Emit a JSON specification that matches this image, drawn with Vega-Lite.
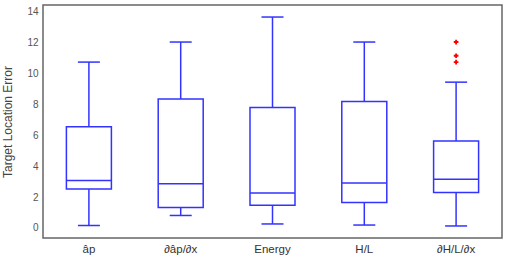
{
  "$schema": "https://vega.github.io/schema/vega-lite/v6.json",
  "width": 459,
  "height": 233,
  "autosize": {"type": "none"},
  "padding": {"left": 43, "top": 5, "right": 4, "bottom": 23},
  "background": "white",
  "config": {
    "view": {"stroke": "#666666", "strokeWidth": 1.5},
    "font": "Liberation Sans",
    "axisY": {
      "labelOverlap": false,
      "labelFlush": false,
      "grid": false,
      "domain": false,
      "ticks": false,
      "tickCount": 8,
      "labelPadding": 5,
      "labelFontSize": 10,
      "labelColor": "#555555",
      "titleFontSize": 12,
      "titleFontWeight": "normal",
      "titleColor": "#444444",
      "titlePadding": 12
    }
  },
  "datasets": {
    "boxes": [
      {"method": "âp", "lower": 0.16, "q1": 2.52, "median": 3.08, "q3": 6.56, "upper": 10.75},
      {"method": "∂âp/∂x", "lower": 0.81, "q1": 1.33, "median": 2.86, "q3": 8.36, "upper": 12.05},
      {"method": "Energy", "lower": 0.26, "q1": 1.48, "median": 2.27, "q3": 7.8, "upper": 13.67},
      {"method": "H/L", "lower": 0.19, "q1": 1.65, "median": 2.92, "q3": 8.19, "upper": 12.05},
      {"method": "∂H/L/∂x", "lower": 0.13, "q1": 2.3, "median": 3.15, "q3": 5.63, "upper": 9.45}
    ],
    "outliers": [
      {"method": "∂H/L/∂x", "value": 12.05},
      {"method": "∂H/L/∂x", "value": 11.16},
      {"method": "∂H/L/∂x", "value": 10.75}
    ]
  },
  "encoding": {
    "x": {
      "field": "method",
      "type": "nominal",
      "sort": ["âp", "∂âp/∂x", "Energy", "H/L", "∂H/L/∂x"],
      "scale": {"paddingInner": 0, "paddingOuter": 0},
      "axis": {
        "title": null,
        "labelAngle": 0,
        "domain": false,
        "ticks": false,
        "labelPadding": 5,
        "labelFontSize": 11.5,
        "labelColor": "#333333"
      }
    }
  },
  "layer": [
    {
      "data": {"name": "boxes"},
      "mark": {"type": "rule", "color": "#3333ff", "strokeWidth": 1.5},
      "encoding": {
        "y": {
          "field": "lower",
          "type": "quantitative",
          "scale": {"domain": [-0.65, 14.45], "nice": false, "zero": false},
          "axis": {
            "title": "Target Location Error",
            "values": [0, 2, 4, 6, 8, 10, 12, 14]
          }
        },
        "y2": {"field": "upper"}
      }
    },
    {
      "data": {"name": "boxes"},
      "mark": {"type": "bar", "size": 45, "fill": "white", "stroke": "#3333ff", "strokeWidth": 1.5},
      "encoding": {
        "y": {"field": "q1", "type": "quantitative"},
        "y2": {"field": "q3"}
      }
    },
    {
      "data": {"name": "boxes"},
      "mark": {"type": "tick", "size": 45, "thickness": 1.5, "color": "#3333ff", "opacity": 1},
      "encoding": {"y": {"field": "median", "type": "quantitative"}}
    },
    {
      "data": {"name": "boxes"},
      "mark": {"type": "tick", "size": 22, "thickness": 1.5, "color": "#3333ff", "opacity": 1},
      "encoding": {"y": {"field": "lower", "type": "quantitative"}}
    },
    {
      "data": {"name": "boxes"},
      "mark": {"type": "tick", "size": 22, "thickness": 1.5, "color": "#3333ff", "opacity": 1},
      "encoding": {"y": {"field": "upper", "type": "quantitative"}}
    },
    {
      "data": {"name": "outliers"},
      "mark": {"type": "point", "shape": "cross", "filled": true, "color": "#ff0000", "size": 22, "opacity": 1},
      "encoding": {"y": {"field": "value", "type": "quantitative"}}
    }
  ]
}
